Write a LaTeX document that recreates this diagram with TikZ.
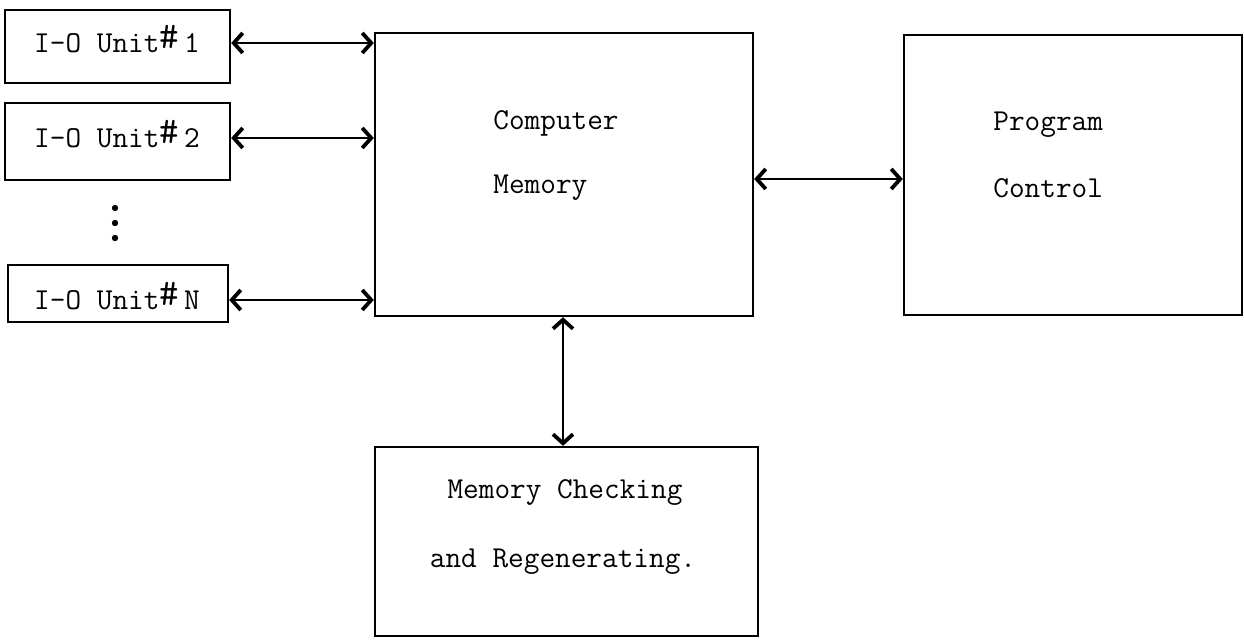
\documentclass[tikz,border=0pt]{standalone}
\usetikzlibrary{arrows.meta}
\newcommand{\hashmark}{\smash{\raisebox{0.3ex}{\fontsize{19}{19}\selectfont\#}}}
\begin{document}
\begin{tikzpicture}[x=0.5pt,y=-0.5pt,
  box/.style={draw,line width=1.2pt,rectangle,inner sep=0pt},
  txt/.style={font=\fontsize{15.2}{18}\selectfont\ttfamily,inner sep=0pt},
  link/.style={line width=1.1pt,{Straight Barb[length=4.5pt,width=10pt,line width=1.9pt]}-{Straight Barb[length=4.5pt,width=10pt,line width=1.9pt]}},
  dot/.style={circle,fill,inner sep=0pt,minimum size=3.2pt}]
\useasboundingbox (0,0) rectangle (1244,640);
% I-O units
\node[box,minimum width=112.5pt,minimum height=36.5pt] (io1) at (117.5,46.5) {};
\node[txt] (io1t) at (117,43) {I-O Unit\hashmark\,1};
\node[box,minimum width=112.5pt,minimum height=38.5pt] (io2) at (117.5,141.5) {};
\node[txt] (io2t) at (117,138) {I-O Unit\hashmark\,2};
\node[box,minimum width=110pt,minimum height=28.5pt] (ioN) at (118,293.5) {};
\node[txt] (ioNt) at (117,300) {I-O Unit\hashmark\,N};
\node[dot] (d1) at (115,208) {};
\node[dot] (d2) at (115,223) {};
\node[dot] (d3) at (115,238) {};
% Computer memory
\node[box,minimum width=189pt,minimum height=141.5pt] (mem) at (564,174.5) {};
\node[txt,anchor=west] (memt1) at (493,123) {Computer};
\node[txt,anchor=west] (memt2) at (493,188) {Memory};
% Program control
\node[box,minimum width=169pt,minimum height=140pt] (pc) at (1073,175) {};
\node[txt,anchor=west] (pct1) at (993,125) {Program};
\node[txt,anchor=west] (pct2) at (993,188) {Control};
% Memory checking
\node[box,minimum width=191.5pt,minimum height=94.5pt] (mc) at (566.5,541.5) {};
\node[txt] (mct1) at (565,493) {Memory Checking};
\node[txt] (mct2) at (563,562) {and Regenerating.};
% connectors
\coordinate (a3) at (564,179);
\coordinate (av) at (563,400);
\draw[link] (io1t -| io1.east) -- (io1t -| mem.west);
\draw[link] (io2t -| io2.east) -- (io2t -| mem.west);
\draw[link] (ioNt -| ioN.east) -- (ioNt -| mem.west);
\draw[link] (a3 -| mem.east) -- (a3 -| pc.west);
\draw[link] (av |- mem.south) -- (av |- mc.north);
\end{tikzpicture}
\end{document}
